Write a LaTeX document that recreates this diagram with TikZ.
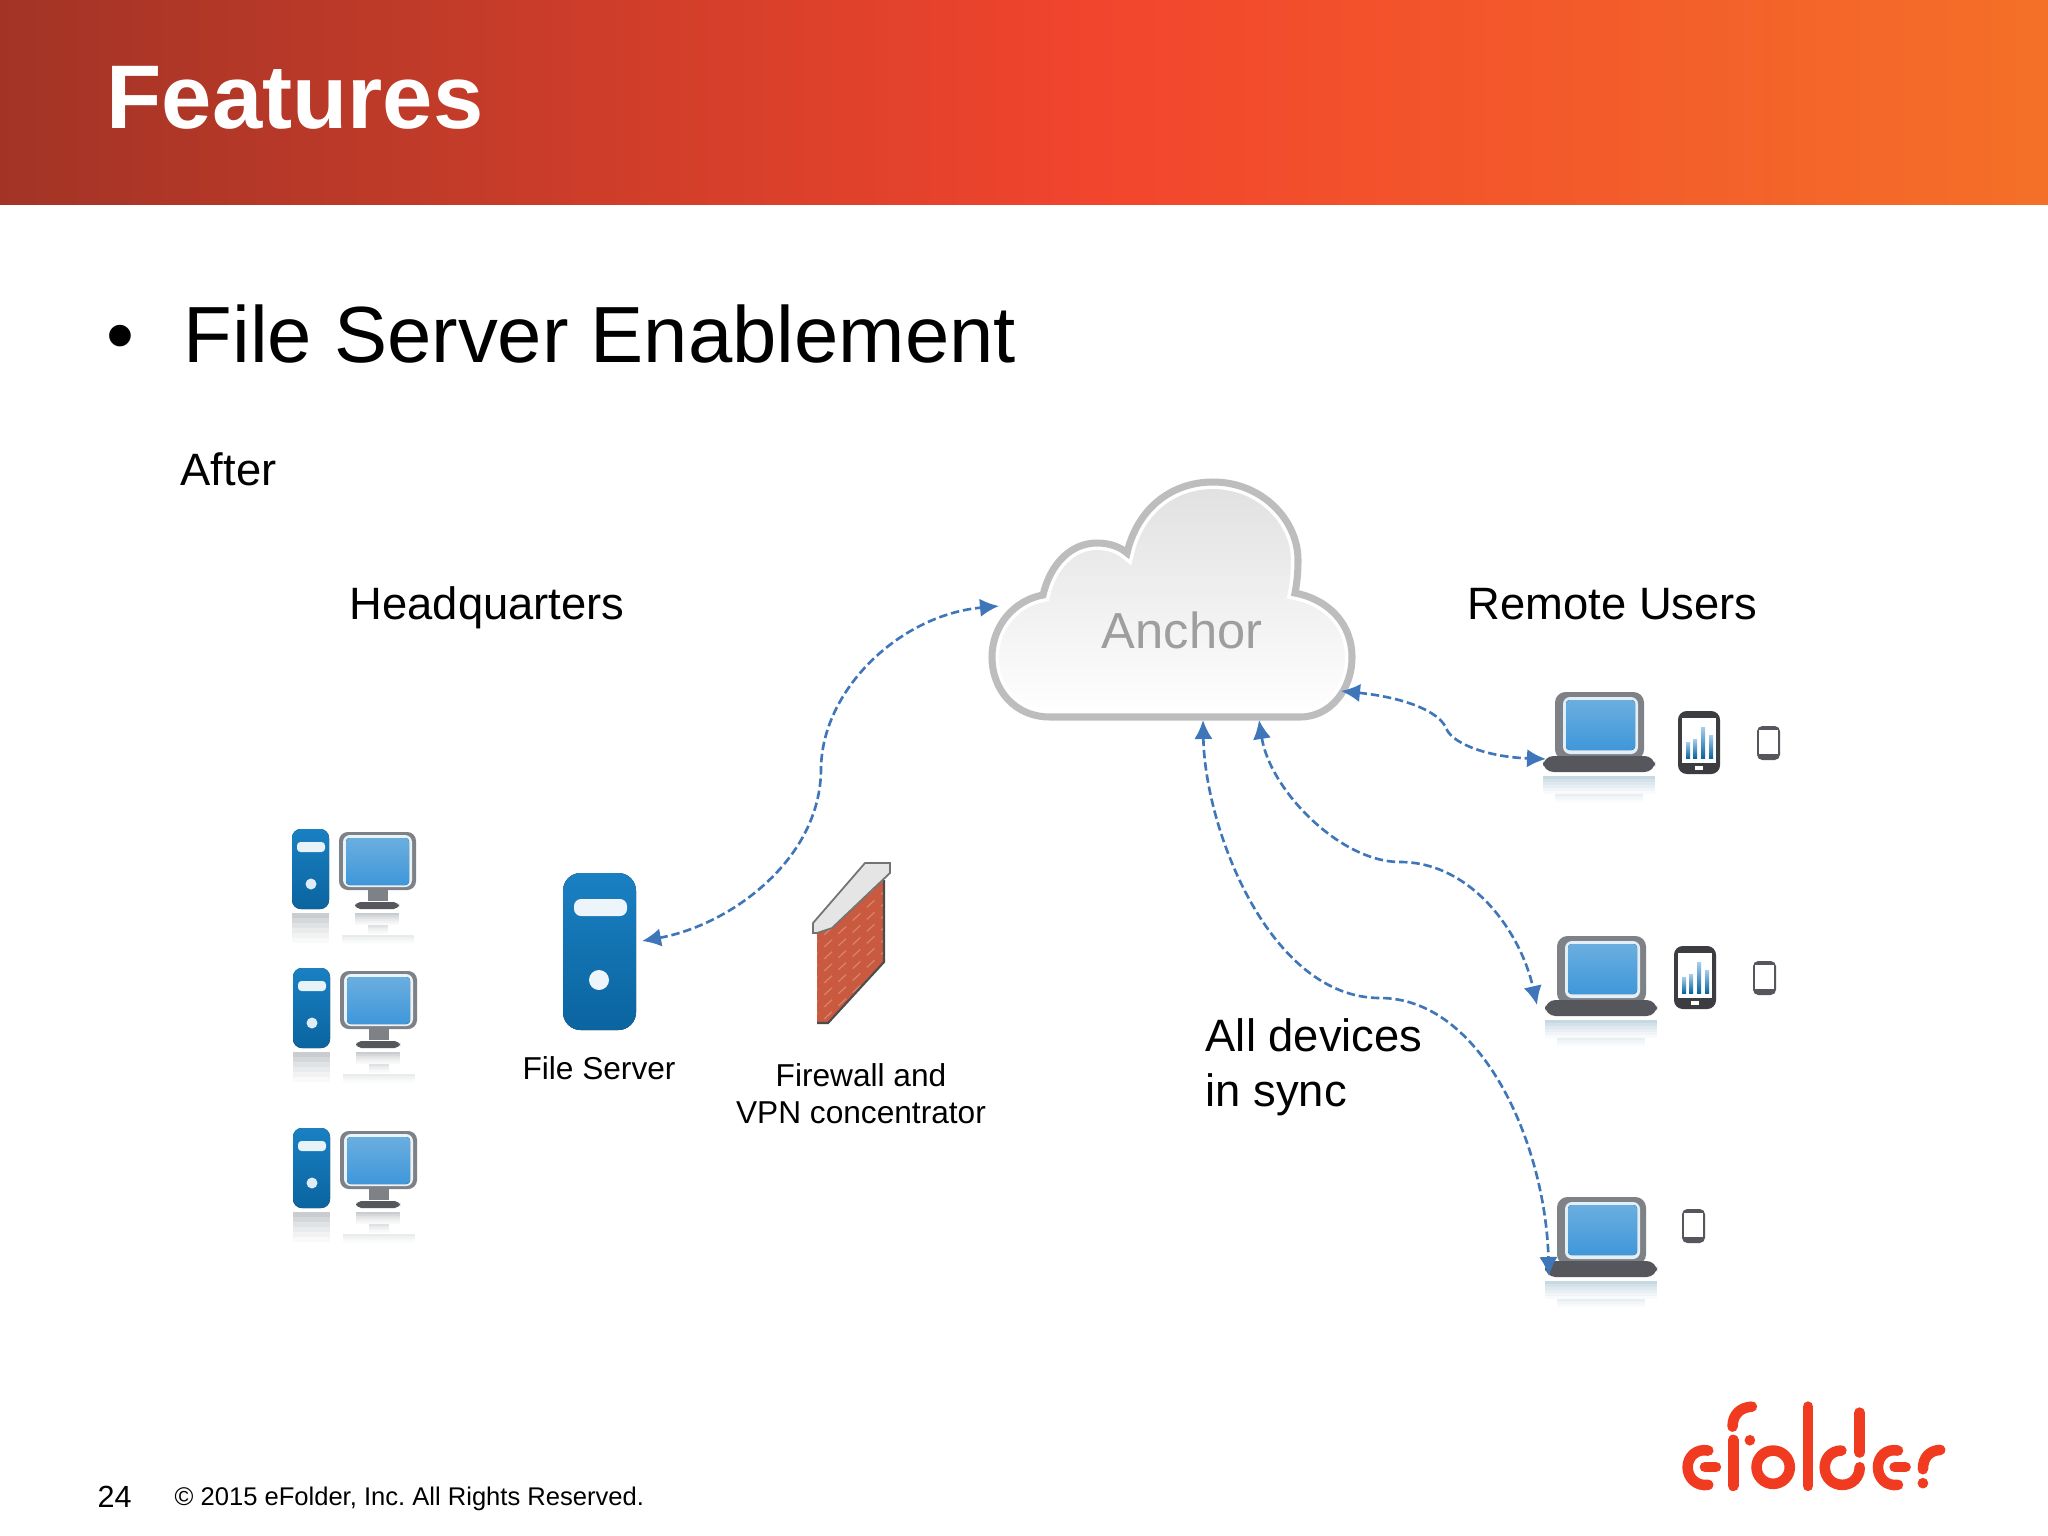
\documentclass[tikz,border=0pt]{standalone}
\usepackage{fontspec}
\setmainfont{Liberation Sans}
\usetikzlibrary{arrows.meta}
\definecolor{hdrA}{HTML}{A23426}
\definecolor{hdrB}{HTML}{F2452D}
\definecolor{hdrC}{HTML}{F47028}
\definecolor{linkblue}{HTML}{3F76B9}
\definecolor{towerT}{HTML}{1A80C2}
\definecolor{towerB}{HTML}{0A649F}
\definecolor{scrT}{HTML}{6AAEDF}
\definecolor{scrB}{HTML}{3F97DA}
\definecolor{frameg}{HTML}{7E8186}
\definecolor{darkg}{HTML}{55575C}
\definecolor{logored}{HTML}{F03B20}
\definecolor{brick}{HTML}{C95A3F}
\definecolor{brickB}{HTML}{D2694A}
\definecolor{reflg}{HTML}{C9CDD0}
\definecolor{reflgB}{HTML}{DFE1E3}
\definecolor{reflgC}{HTML}{E9EBEC}
\definecolor{reflb}{HTML}{C6D8E2}
\definecolor{reflbB}{HTML}{E8EFF3}
\newcommand{\cloudpath}{(1050,717) .. controls (1015,717) and (992,690) .. (992,657) .. controls (992,625) and (1015,600) .. (1043,595) .. controls (1050,565) and (1070,543) .. (1097,543) .. controls (1110,543) and (1120,547) .. (1127,553) .. controls (1137,510) and (1170,482) .. (1213,482) .. controls (1262,482) and (1298,520) .. (1298,560) .. controls (1298,572) and (1297,583) .. (1295,593) .. controls (1330,600) and (1352,625) .. (1352,657) .. controls (1352,690) and (1330,717) .. (1300,717) -- cycle}
% fading reflection made of flat bands: colour, x1, y1, x2, height of a band
\newcommand{\reflbands}[5]{%
  \foreach \bandn/\bandp in {0/100,1/78,2/58,3/40,4/25,5/12}{
    \fill[#1!\bandp!white] (#2,{#3+\bandn*#5}) rectangle (#4,{#3+(\bandn+1)*#5+0.3});
  }}
\tikzset{
  lbl/.style={inner sep=0pt,anchor=base west,text=black},
  f13/.style={font=\fontsize{12.9}{15.6}\selectfont},
  link/.style={linkblue,line width=0.75pt,dash pattern=on 2.4pt off 1.1pt,{Latex[length=5.4pt,width=5.2pt]}-{Latex[length=5.4pt,width=5.2pt]}},
  towerfill/.style={top color=towerT,bottom color=towerB,draw=none},
  scr/.style={top color=scrT,bottom color=scrB,draw=none},
  logostroke/.style={draw=logored,line width=3pt,line cap=round},
  desktop/.pic={
    \fill[towerfill,rounded corners=2.5pt] (0,0) rectangle (37,80);
    \fill[white!90!towerT,rounded corners=1pt] (5,13) rectangle (33,23);
    \fill[white!85!towerT] (19,55) circle[radius=5.5];
    \fill[frameg,rounded corners=2.5pt] (47,3) rectangle (124,61);
    \fill[white!85!scrT,rounded corners=2pt] (51,6) rectangle (120,58);
    \fill[scr,rounded corners=1pt] (54,9) rectangle (117,56);
    \fill[frameg] (76,61) rectangle (96,72);
    \fill[darkg,rounded corners=1.5pt] (63,73) rectangle (107,80);
    \reflbands{reflg}{0}{84}{37}{5}
    \reflbands{reflg}{63}{84}{107}{2}
    \reflbands{reflgB}{76}{96}{96}{1.5}
    \reflbands{reflgC}{50}{106}{122}{1.5}
  },
  laptop/.pic={
    \reflbands{reflb}{0}{84}{112}{3}
    \reflbands{reflbB}{12}{102}{100}{1.5}
    \fill[frameg,rounded corners=3pt] (12,0) rectangle (101,68);
    \fill[white!80!scrT,rounded corners=2pt] (20,5) rectangle (95,62);
    \fill[scr,rounded corners=1pt] (23,8) rectangle (92,58);
    \fill[darkg,rounded corners=3pt] (0,64) rectangle (112,80);
  },
  tablet/.pic={
    \fill[darkg!70!black,rounded corners=2.5pt] (0,0) rectangle (42,63);
    \fill[white] (4,7) rectangle (38,52);
    \foreach \xa/\ya in {8/31,15/28,23/16,31/24}{
      \fill[top color=scrT!60,bottom color=towerB] (\xa,\ya) rectangle (\xa+4,47);
    }
    \fill[white] (17,55) rectangle (25,59);
  },
  phone/.pic={
    \fill[darkg,rounded corners=1.5pt] (0,0) rectangle (23,34);
    \fill[white] (2,4) rectangle (21,28);
  },
}
\begin{document}
\begin{tikzpicture}[x=0.01cm,y=-0.01cm]
\useasboundingbox (0,0) rectangle (2048,1536);
\fill[white] (0,0) rectangle (2048,1536);
% header
\fill[left color=hdrA,right color=hdrB,draw=none] (0,0) rectangle (1101,204);
\fill[left color=hdrB,right color=hdrC,draw=none] (1100,0) rectangle (2048,204);
\node[lbl,text=white,font=\fontsize{25.7}{30}\selectfont\bfseries] (title) at (106,128) {Features};
% bullet and body
\node[lbl,font=\fontsize{22.65}{27}\selectfont] (bullet) at (106,362) {•};
\node[lbl,font=\fontsize{22.65}{27}\selectfont] (subtitle) at (183,362) {File Server Enablement};
\node[lbl,f13] (after) at (180,485) {After};
\node[lbl,f13] (hq) at (349,619) {Headquarters};
\node[lbl,f13] (remote) at (1467,619) {Remote Users};
% cloud
\fill[top color=black!12,bottom color=white,draw=none] \cloudpath;
\begin{scope}
  \clip \cloudpath;
  \draw[white,line width=4pt] \cloudpath;
\end{scope}
\draw[black!26,line width=2pt] \cloudpath;
\node[inner sep=0pt,text=black!38,font=\fontsize{14.4}{17}\selectfont,anchor=base] (anchor) at (1182,648) {Anchor};
% computers
\pic (d1) at (292,829) {desktop};
\pic (d2) at (293,968) {desktop};
\pic (d3) at (293,1128) {desktop};
% file server
\fill[towerfill,rounded corners=5pt] (563,873) rectangle (636,1030);
\fill[white!92!towerT,rounded corners=2pt] (574,899) rectangle (627,916);
\fill[white!92!towerT] (599,980) circle[radius=10];
\node[inner sep=0pt,anchor=base,font=\fontsize{9}{10.2}\selectfont] (fslabel) at (599,1079) {File Server};
% firewall
\fill[brick] (817,932) -- (884,880) -- (884,962) -- (828,1023) -- (817,1023) -- cycle;
\begin{scope}
  \clip (817,932) -- (884,880) -- (884,962) -- (828,1023) -- (817,1023) -- cycle;
  \foreach \k in {0,1,...,11}{
    \draw[brickB!70!white,line width=0.35pt,dash pattern=on 3pt off 2.5pt,opacity=.7] (810,936+\k*12) -- (890,862+\k*12);
  }
\end{scope}
\draw[black!70,line width=0.6pt] (884,880) -- (884,962) -- (828,1023) -- (817,1023);
\fill[black!10,draw=black!55,line width=0.5pt] (813,923) -- (865,863) -- (890,863) -- (890,873) -- (832,928) -- (817,933) -- (813,933) -- cycle;
\node[inner sep=0pt,anchor=base,align=center,font=\fontsize{9}{10.3}\selectfont] (fwlabel) at (861,1123) {Firewall and\\VPN concentrator};
% remote devices
\pic (l1) at (1543,692) {laptop};
\pic (l2) at (1545,936) {laptop};
\pic (l3) at (1545,1197) {laptop};
\pic (t1) at (1678,711) {tablet};
\pic (t2) at (1674,946) {tablet};
\pic (p1) at (1757,726) {phone};
\pic (p2) at (1753,961) {phone};
\pic (p3) at (1682,1209) {phone};
\node[lbl,f13] (sync1) at (1205,1051) {All devices};
\node[lbl,f13] (sync2) at (1205,1106) {in sync};
% connector ends
\coordinate (srvE) at (642,941);
\coordinate (cloudW) at (999,606);
\coordinate (cloudE) at (1341,691);
\coordinate (lap1) at (1546,759);
\coordinate (cloudS2) at (1259,720);
\coordinate (lap2) at (1537,1005);
\coordinate (cloudS1) at (1203,720);
\coordinate (lap3) at (1549,1276);
\draw[link] (srvE) .. controls (730,925) and (820,860) .. (821,770) .. controls (821,690) and (900,615) .. (cloudW);
\draw[link] (cloudE) .. controls (1400,697) and (1440,710) .. (1447,730) .. controls (1455,745) and (1490,757) .. (lap1);
\draw[link] (cloudS2) .. controls (1270,790) and (1340,862) .. (1400,862) .. controls (1470,862) and (1520,930) .. (lap2);
\draw[link] (cloudS1) .. controls (1205,830) and (1270,998) .. (1380,998) .. controls (1480,998) and (1545,1140) .. (lap3);
% footer
\node[lbl,font=\fontsize{8.7}{10}\selectfont] (page) at (97,1507) {24};
\node[lbl,font=\fontsize{7.27}{9}\selectfont\frenchspacing] (copy) at (174,1505) {© 2015 eFolder, Inc. All Rights Reserved.};
% logo
\begin{scope}[shift={(1660,1380)},x=0.003333cm,y=-0.003333cm]
  \draw[logostroke] (145,212) .. controls (110,205) and (83,230) .. (83,262) .. controls (83,295) and (110,320) .. (145,315);
  \draw[logostroke] (135,262) -- (168,262);
  \draw[logostroke] (220,180) -- (220,318);
  \draw[logostroke] (218,140) .. controls (218,105) and (240,82) .. (276,80);
  \fill[logored] (270,181) circle[radius=16];
  \draw[logostroke] (340,262) circle[radius=50];
  \draw[logostroke] (445,80) -- (445,318);
  \draw[logostroke] (545,212) .. controls (515,212) and (495,235) .. (495,262) .. controls (495,295) and (520,315) .. (548,315) .. controls (578,315) and (600,292) .. (600,262);
  \draw[logostroke] (600,98) -- (600,218);
  \draw[logostroke] (715,212) .. controls (680,205) and (655,230) .. (655,262) .. controls (655,295) and (680,320) .. (715,315);
  \draw[logostroke] (705,262) -- (738,262);
  \draw[logostroke] (790,268) .. controls (790,232) and (810,212) .. (842,210);
  \fill[logored] (790,310) circle[radius=16];
\end{scope}
\end{tikzpicture}
\end{document}
